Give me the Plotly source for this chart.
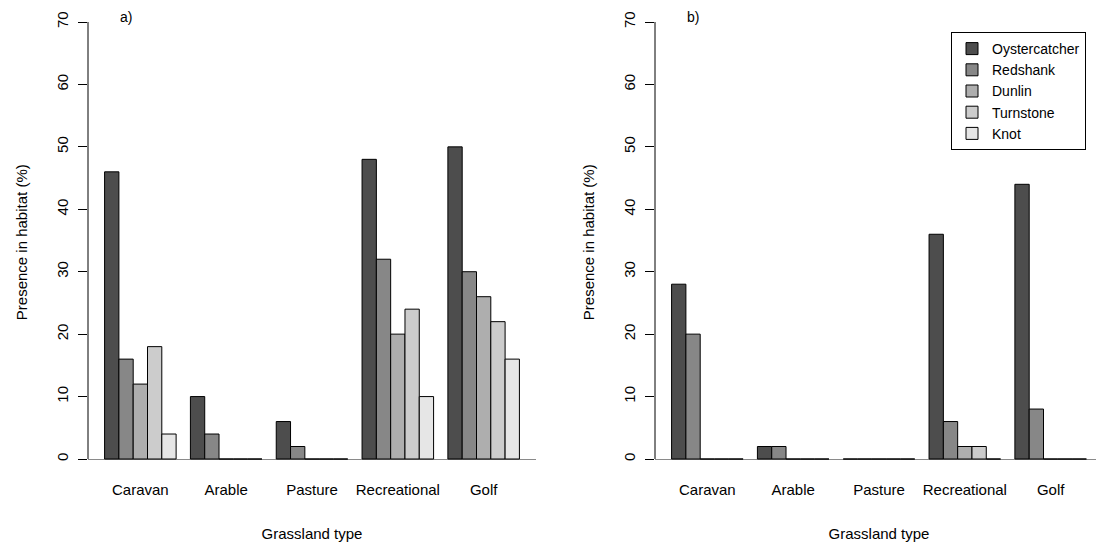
import plotly.graph_objects as go

categories = ["Caravan", "Arable", "Pasture", "Recreational", "Golf"]
species = ["Oystercatcher", "Redshank", "Dunlin", "Turnstone", "Knot"]

# Panel a) values (% presence in habitat)
a_oystercatcher = [46, 10, 6, 48, 50]
a_redshank = [16, 4, 2, 32, 30]
a_dunlin = [12, 0, 0, 20, 26]
a_turnstone = [18, 0, 0, 24, 22]
a_knot = [4, 0, 0, 10, 16]

# Panel b) values
b_oystercatcher = [28, 2, 0, 36, 44]
b_redshank = [20, 2, 0, 6, 8]
b_dunlin = [0, 0, 0, 2, 0]
b_turnstone = [0, 0, 0, 2, 0]
b_knot = [0, 0, 0, 0, 0]

y_ticks = [0, 10, 20, 30, 40, 50, 60, 70]
colors = ["#4D4D4D", "#878787", "#AEAEAE", "#CCCCCC", "#E6E6E6"]

panel_a = [a_oystercatcher, a_redshank, a_dunlin, a_turnstone, a_knot]
panel_b = [b_oystercatcher, b_redshank, b_dunlin, b_turnstone, b_knot]

FONT = "Liberation Sans, Arial, sans-serif"
W, H = 1104, 550
OFF = 8  # page body margin offset


def px_x(v):
    return (v - OFF) / W


def px_y(v):
    return 1 - (v - OFF) / H


fig = go.Figure()
for i, name in enumerate(species):
    fig.add_trace(go.Bar(
        x=categories, y=panel_a[i], name=name, showlegend=False,
        marker=dict(color=colors[i], line=dict(color="black", width=1)),
        xaxis="x", yaxis="y"))
for i, name in enumerate(species):
    fig.add_trace(go.Bar(
        x=categories, y=panel_b[i], name=name, showlegend=True,
        marker=dict(color=colors[i], line=dict(color="black", width=1)),
        xaxis="x2", yaxis="y2"))

y0_px, y70_px = 459, 22
ppu = (y0_px - y70_px) / 70.0
bottom_px = y0_px + 2.8 * ppu
top_px = OFF
y_lo = -2.8
y_hi = 70 + (y70_px - top_px) / ppu
ydom = [px_y(bottom_px), 1.0]


def yaxis_cfg():
    return dict(
        domain=ydom, range=[y_lo, y_hi], showgrid=False, showline=False,
        automargin=False,
        zeroline=True, zerolinecolor="#8a8a8a", zerolinewidth=1,
        ticks="outside", ticklen=9, tickwidth=1, tickcolor="black",
        tickvals=y_ticks, tickangle=-90,
        ticklabelstandoff=4,
        tickfont=dict(family=FONT, size=15, color="black"),
        title=dict(text="Presence in habitat (%)", standoff=22,
                   font=dict(family=FONT, size=15, color="black")),
    )


def xaxis_cfg(dom):
    return dict(
        domain=dom, range=[-0.61, 4.61], showgrid=False, showline=False,
        automargin=False,
        zeroline=False, ticks="", type="category",
        tickfont=dict(family=FONT, size=15, color="black"),
        ticklabelstandoff=3,
        title=dict(text="Grassland type", standoff=31,
                   font=dict(family=FONT, size=15, color="black")),
    )


fig.update_layout(
    width=W, height=H,
    margin=dict(l=0, r=0, t=0, b=0, autoexpand=False),
    paper_bgcolor="white", plot_bgcolor="white",
    barmode="group", bargap=1/6, bargroupgap=0,
    xaxis=xaxis_cfg([px_x(88), px_x(536)]),
    yaxis=dict(yaxis_cfg(), anchor="x"),
    xaxis2=dict(xaxis_cfg([px_x(655), px_x(1103)]), anchor="y2"),
    yaxis2=dict(yaxis_cfg(), anchor="x2"),
    legend=dict(x=px_x(951), y=px_y(32), xanchor="left", yanchor="top",
                bgcolor="white", bordercolor="black", borderwidth=1,
                font=dict(family=FONT, size=14, color="black"),
                traceorder="normal", tracegroupgap=0),
    shapes=[
        dict(type="line", xref="x domain", yref="y", x0=0, x1=0, y0=0, y1=70,
             line=dict(color="black", width=1)),
        dict(type="line", xref="x2 domain", yref="y2", x0=0, x1=0, y0=0, y1=70,
             line=dict(color="black", width=1)),
    ],
    annotations=[
        dict(text="a)", xref="paper", yref="paper", x=px_x(126), y=1.0,
             xanchor="center", yanchor="top", borderpad=0,
             showarrow=False, font=dict(family=FONT, size=14, color="black")),
        dict(text="b)", xref="paper", yref="paper", x=px_x(693), y=1.0,
             xanchor="center", yanchor="top", borderpad=0,
             showarrow=False, font=dict(family=FONT, size=14, color="black")),
    ],
)

fig.write_html("out.html")
